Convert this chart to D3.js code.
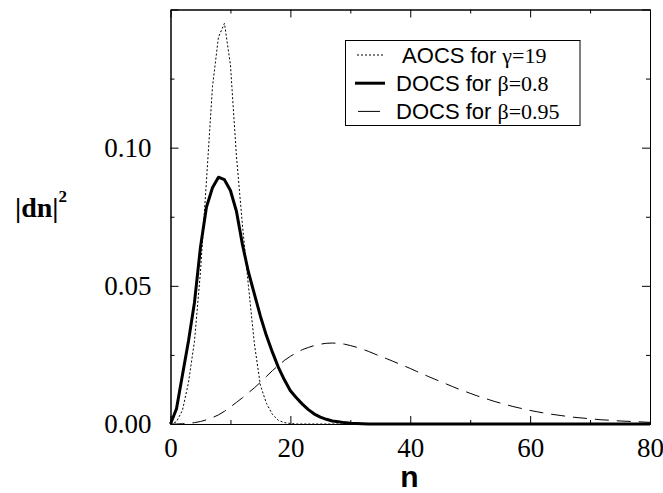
<!DOCTYPE html>
<html>
<head>
<meta charset="utf-8">
<script src="https://cdn.jsdelivr.net/npm/d3@7"></script>
<style>
  body { margin: 0; background: white; }
  svg { display: block; }
</style>
</head>
<body>
<div id="chart"></div>
<script>

// photon number n (x axis)
const nValues = d3.range(0, 81);

// |dn|^2, one value per n = 0..80
const aocsGamma19 = [
  0, 0.0008, 0.005, 0.015, 0.030, 0.055, 0.088, 0.122, 0.140, 0.145,
  0.130, 0.097, 0.072, 0.050, 0.029, 0.014, 0.0075, 0.0035, 0.0013, 0.0005,
  0.0002, 0, 0, 0, 0, 0, 0, 0, 0, 0,
  0, 0, 0, 0, 0, 0, 0, 0, 0, 0,
  0, 0, 0, 0, 0, 0, 0, 0, 0, 0,
  0, 0, 0, 0, 0, 0, 0, 0, 0, 0,
  0, 0, 0, 0, 0, 0, 0, 0, 0, 0,
  0, 0, 0, 0, 0, 0, 0, 0, 0, 0,
  0
];

const docsBeta08 = [
  0, 0.0055, 0.0178, 0.030, 0.044, 0.064, 0.0785, 0.0855, 0.0893, 0.0884,
  0.0845, 0.077, 0.065, 0.055, 0.047, 0.039, 0.032, 0.026, 0.0205, 0.016,
  0.012, 0.0095, 0.0072, 0.0052, 0.0036, 0.0025, 0.0017, 0.0011, 0.0008, 0.0005,
  0.0003, 0.0002, 0.0001, 0, 0, 0, 0, 0, 0, 0,
  0, 0, 0, 0, 0, 0, 0, 0, 0, 0,
  0, 0, 0, 0, 0, 0, 0, 0, 0, 0,
  0, 0, 0, 0, 0, 0, 0, 0, 0, 0,
  0, 0, 0, 0, 0, 0, 0, 0, 0, 0,
  0
];

const docsBeta095 = [
  0, 0, 0.0001, 0.0002, 0.0005, 0.0009, 0.0015, 0.0023, 0.0033, 0.0046,
  0.0062, 0.0078, 0.0095, 0.0113, 0.0131, 0.0151, 0.0172, 0.0193, 0.0212, 0.0230,
  0.0245, 0.0258, 0.0269, 0.0277, 0.0284, 0.0289, 0.0292, 0.0293, 0.0292, 0.0289,
  0.0284, 0.0278, 0.0271, 0.0263, 0.0254, 0.0245, 0.0237, 0.0228, 0.0219, 0.0210,
  0.0201, 0.0191, 0.0182, 0.0172, 0.0163, 0.0154, 0.0145, 0.0136, 0.0127, 0.0119,
  0.0111, 0.0103, 0.0096, 0.0089, 0.0082, 0.0076, 0.0070, 0.0064, 0.0059, 0.0054,
  0.0049, 0.0045, 0.0041, 0.0037, 0.0034, 0.0031, 0.0028, 0.0025, 0.0023, 0.0021,
  0.0019, 0.0017, 0.0015, 0.0014, 0.0012, 0.0011, 0.0010, 0.0009, 0.0008, 0.0007,
  0.0006
];

// tick values
const xMajorTicks = [0, 20, 40, 60, 80];
const xMinorTicks = [10, 30, 50, 70];
const yMajorTicks = [0, 0.05, 0.10, 0.15];
const yMinorTicks = [0.025, 0.075, 0.125];
const yTickLabels = ["0.00", "0.05", "0.10", ""];

// legend entries
const legendLabels = [
  ["\u00a0AOCS for ", "\u03b3=19"],
  ["DOCS for ", "\u03b2=0.8"],
  ["DOCS for ", "\u03b2=0.95"]
];

// svg dimensions and plot box
const svgWidth = 663;
const svgHeight = 493;
const plot = {left: 170.5, right: 650, top: 9.5, bottom: 424};

let svg = d3.select("#chart")
  .append("svg")
  .attr("width", svgWidth)
  .attr("height", svgHeight)
  .style("background-color", "white");

let xScale = d3.scaleLinear()
  .domain([0, 80])
  .range([plot.left, plot.right]);

let yScale = d3.scaleLinear()
  .domain([0, 0.15])
  .range([plot.bottom, plot.top]);

const serif = "'Liberation Serif', 'Times New Roman', serif";
const sans = "'Liberation Sans', Arial, sans-serif";

// draws one axis with ticks pointing into the plot
function drawAxis(axisFn, scale, translate, ticks, size, format, padding) {
  let g = svg.append("g")
    .attr("transform", translate)
    .call(axisFn(scale)
      .tickValues(ticks)
      .tickSizeInner(-size)
      .tickSizeOuter(0)
      .tickPadding(padding || 0)
      .tickFormat(format));
  g.selectAll("line").attr("stroke", "#000");
  g.select(".domain").attr("stroke", "#000");
  return g;
}

// bottom axis with labels
let xAxis = drawAxis(d3.axisBottom, xScale, "translate(0," + plot.bottom + ")",
  xMajorTicks, 8, d3.format("d"), 14);
xAxis.selectAll("text")
  .style("font-family", serif)
  .style("font-size", "27px")
  .attr("fill", "#000");
drawAxis(d3.axisBottom, xScale, "translate(0," + plot.bottom + ")", xMinorTicks, 4, () => "");

// top axis, ticks only
drawAxis(d3.axisTop, xScale, "translate(0," + plot.top + ")", xMajorTicks, 8, () => "");
drawAxis(d3.axisTop, xScale, "translate(0," + plot.top + ")", xMinorTicks, 4, () => "");

// left axis with labels
let yAxis = drawAxis(d3.axisLeft, yScale, "translate(" + plot.left + ",0)",
  yMajorTicks, 8, (d, i) => yTickLabels[i], 19);
yAxis.selectAll("text")
  .style("font-family", serif)
  .style("font-size", "27px")
  .attr("fill", "#000");
drawAxis(d3.axisLeft, yScale, "translate(" + plot.left + ",0)", yMinorTicks, 4, () => "");

// right axis, ticks only
drawAxis(d3.axisRight, yScale, "translate(" + plot.right + ",0)", yMajorTicks, 8, () => "");
drawAxis(d3.axisRight, yScale, "translate(" + plot.right + ",0)", yMinorTicks, 4, () => "");

// the three curves
const series = [
  {values: aocsGamma19, width: 1, dash: "2,2"},
  {values: docsBeta08, width: 3, dash: null},
  {values: docsBeta095, width: 1, dash: "14,8"}
];

let lineGen = d3.line()
  .x(function(d) { return xScale(d[0]); })
  .y(function(d) { return yScale(d[1]); });

series.forEach(function(s) {
  svg.append("path")
    .datum(nValues.map(function(n, i) { return [n, s.values[i]]; }))
    .attr("fill", "none")
    .attr("stroke", "#000")
    .attr("stroke-width", s.width)
    .attr("stroke-dasharray", s.dash)
    .attr("stroke-linejoin", "round")
    .attr("d", lineGen);
});

// legend box
let legend = svg.append("g");
legend.append("rect")
  .attr("x", 345.5)
  .attr("y", 40.5)
  .attr("width", 234.5)
  .attr("height", 85)
  .attr("fill", "white")
  .attr("stroke", "#000")
  .attr("stroke-width", 1);

const legendSamples = [
  {x1: 357, x2: 383, width: 1, dash: "2,2"},
  {x1: 355, x2: 385, width: 3, dash: null},
  {x1: 358, x2: 380, width: 1, dash: null}
];

legendLabels.forEach(function(lab, i) {
  let baseline = 63 + i * 28.2;
  legend.append("line")
    .attr("x1", legendSamples[i].x1)
    .attr("x2", legendSamples[i].x2)
    .attr("y1", baseline - 8)
    .attr("y2", baseline - 8)
    .attr("stroke", "#000")
    .attr("stroke-width", legendSamples[i].width)
    .attr("stroke-dasharray", legendSamples[i].dash);
  let t = legend.append("text")
    .attr("x", 396)
    .attr("y", baseline)
    .style("font-size", "22px")
    .attr("fill", "#000");
  t.append("tspan").style("font-family", sans).text(lab[0]);
  t.append("tspan").style("font-family", serif).text(lab[1]);
});

// axis titles
svg.append("text")
  .attr("x", 409.5)
  .attr("y", 487)
  .attr("text-anchor", "middle")
  .style("font-family", sans)
  .style("font-weight", "bold")
  .style("font-size", "30px")
  .text("n");

let yTitle = svg.append("text")
  .attr("x", 15)
  .attr("y", 217)
  .style("font-family", serif)
  .style("font-weight", "bold")
  .style("font-size", "28px");
yTitle.append("tspan").text("|dn|");
yTitle.append("tspan")
  .attr("dy", -15)
  .style("font-size", "17px")
  .text("2");

</script>
</body>
</html>
